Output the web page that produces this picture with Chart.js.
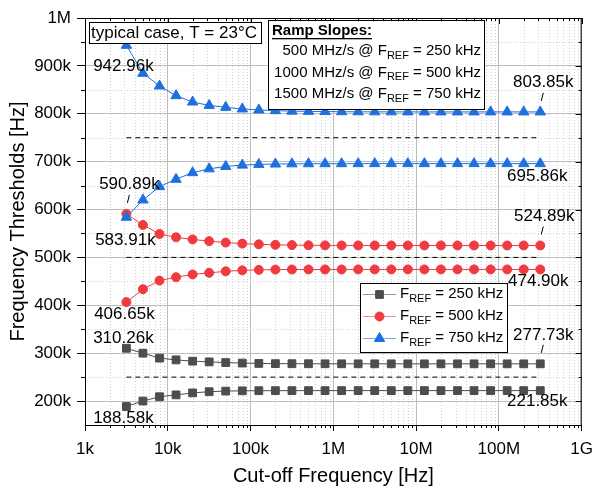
<!DOCTYPE html>
<html>
<head>
<meta charset="utf-8">
<script src="https://cdn.jsdelivr.net/npm/chart.js@4.4.0/dist/chart.umd.min.js"></script>
<style>
  html, body { margin: 0; padding: 0; background: #fff; }
  #wrap { width: 601px; height: 488px; }
</style>
</head>
<body>
<div id="wrap"><canvas id="thresholds"></canvas></div>
<script>
// cut-off frequency of the sweep [Hz]
const cutoff = [3162, 5012, 7943, 12589, 19953, 31623, 50119, 79433, 125893, 199526,
  316228, 501187, 794328, 1258925, 1995262, 3162278, 5011872, 7943282, 12589254,
  19952623, 31622777, 50118723, 79432823, 125892541, 199526231, 316227766];

// thresholds [kHz]
const upper250 = [310.26, 300.0, 289.6, 286.0, 283.3, 281.8, 280.4, 279.3, 278.6, 278.2, 278.0, 277.9, 277.85,
  277.8, 277.8, 277.78, 277.76, 277.75, 277.75, 277.74, 277.74, 277.73, 277.73, 277.73, 277.73, 277.73];
const lower250 = [188.58, 200.0, 209.0, 212.9, 217.0, 219.5, 220.8, 221.4, 221.6, 221.7, 221.75, 221.8, 221.8,
  221.82, 221.83, 221.84, 221.84, 221.85, 221.85, 221.85, 221.85, 221.85, 221.85, 221.85, 221.85, 221.85];
const upper500 = [590.89, 567.8, 549.0, 542.0, 537.5, 534.0, 531.0, 528.8, 527.3, 526.3, 525.7, 525.3, 525.1,
  525.0, 524.95, 524.92, 524.9, 524.9, 524.89, 524.89, 524.89, 524.89, 524.89, 524.89, 524.89, 524.89];
const lower500 = [406.65, 433.6, 451.6, 458.6, 464.5, 467.8, 471.0, 473.0, 474.0, 474.5, 474.7, 474.8, 474.85,
  474.87, 474.88, 474.89, 474.9, 474.9, 474.9, 474.9, 474.9, 474.9, 474.9, 474.9, 474.9, 474.9];
const upper750 = [942.96, 884.5, 858.0, 837.8, 824.5, 817.5, 813.5, 810.0, 808.0, 806.5, 805.5, 805.0, 804.6,
  804.3, 804.1, 804.0, 803.95, 803.9, 803.88, 803.86, 803.85, 803.85, 803.85, 803.85, 803.85, 803.85];
const lower750 = [583.91, 620.0, 647.8, 663.2, 677.0, 685.0, 690.0, 692.8, 694.3, 695.0, 695.4, 695.6, 695.7,
  695.75, 695.8, 695.82, 695.84, 695.85, 695.86, 695.86, 695.86, 695.86, 695.86, 695.86, 695.86, 695.86];

const refLevels = [250, 500, 750];
const refLabels = ['250 kHz', '500 kHz', '750 kHz'];
const rampSlopes = ['500 MHz/s', '1000 MHz/s', '1500 MHz/s'];

const xTickValues = [1e3, 1e4, 1e5, 1e6, 1e7, 1e8, 1e9];
const xTickLabels = ['1k', '10k', '100k', '1M', '10M', '100M', '1G'];
const yTickValues = [200, 300, 400, 500, 600, 700, 800, 900, 1000];
const yTickLabels = ['200k', '300k', '400k', '500k', '600k', '700k', '800k', '900k', '1M'];

const FONT = "'Liberation Sans', Arial, sans-serif";
Chart.defaults.font.family = FONT;

const grey = '#4d4d4d', red = '#ef3b3f', blue = '#1f70de';

function pts(arr) {
  return cutoff.map((x, i) => ({ x: x, y: arr[i] }));
}

function series(arr, color, style, radius) {
  return {
    data: pts(arr),
    borderColor: color,
    backgroundColor: color,
    borderWidth: 1,
    pointStyle: style,
    pointRadius: radius,
    pointBorderWidth: 1,
    pointBackgroundColor: color,
    pointBorderColor: color
  };
}

function refLine(level) {
  return {
    data: [{ x: cutoff[0], y: level }, { x: cutoff[cutoff.length - 1], y: level }],
    borderColor: '#000',
    borderWidth: 1,
    borderDash: [5, 4],
    pointRadius: 0
  };
}

// text with an F_REF style subscript
function drawParts(ctx, parts, x, y, size, align) {
  const subSize = Math.round(size * 0.7);
  let w = 0;
  parts.forEach(p => {
    ctx.font = (p.sub ? subSize : size) + 'px ' + FONT;
    p.w = ctx.measureText(p.t).width;
    w += p.w;
  });
  let cx = align === 'right' ? x - w : x;
  ctx.textAlign = 'left';
  ctx.textBaseline = 'middle';
  parts.forEach(p => {
    ctx.font = (p.sub ? subSize : size) + 'px ' + FONT;
    ctx.fillText(p.t, cx, p.sub ? y + size * 0.32 : y);
    cx += p.w;
  });
  return w;
}

// value labels: dataset index, point index, offset of text, optional leader
const valueLabels = [
  { ds: 0, i: 0, dx: -3, dy: 21 },
  { ds: 0, i: 25, dx: 3, dy: -30, lead: true },
  { ds: 1, i: 0, dx: -1, dy: 23 },
  { ds: 1, i: 25, dx: -3, dy: 13 },
  { ds: 2, i: 0, dx: 3, dy: -30, lead: true },
  { ds: 2, i: 25, dx: 4, dy: -29, lead: true },
  { ds: 3, i: 0, dx: -2, dy: 12 },
  { ds: 3, i: 25, dx: -2, dy: 12 },
  { ds: 4, i: 0, dx: -3, dy: -10 },
  { ds: 4, i: 25, dx: 3, dy: -29, lead: true },
  { ds: 5, i: 0, dx: -3, dy: 12 },
  { ds: 5, i: 25, dx: -3, dy: 11 }
];

const framePlugin = {
  id: 'frame',
  beforeDatasetsDraw(chart) {
    const { ctx, chartArea: a, scales: { x, y } } = chart;
    ctx.save();
    ctx.strokeStyle = '#d2d2d2';
    ctx.lineWidth = 1;
    ctx.setLineDash([1, 2]);
    for (let d = 1e3; d < 1e9; d *= 10) {
      for (let m = 2; m < 10; m++) {
        const px = Math.round(x.getPixelForValue(m * d)) + 0.5;
        ctx.beginPath(); ctx.moveTo(px, a.top); ctx.lineTo(px, a.bottom); ctx.stroke();
      }
    }
    for (let v = 250; v < 1000; v += 100) {
      const py = Math.round(y.getPixelForValue(v)) + 0.5;
      ctx.beginPath(); ctx.moveTo(a.left, py); ctx.lineTo(a.right, py); ctx.stroke();
    }
    ctx.restore();
  },
  afterDatasetsDraw(chart) {
    const { ctx, chartArea: a, scales: { x, y } } = chart;
    ctx.save();
    // frame and ticks
    ctx.strokeStyle = '#000';
    ctx.lineWidth = 1;
    ctx.strokeRect(a.left + 0.5, a.top + 0.5, a.right - a.left - 1, a.bottom - a.top);
    ctx.beginPath();
    for (let d = 1e3; d <= 1e9; d *= 10) {
      const px = Math.round(x.getPixelForValue(d)) + 0.5;
      ctx.moveTo(px, a.top); ctx.lineTo(px, a.top + 6);
      if (d < 1e9) {
        for (let m = 2; m < 10; m++) {
          const mx = Math.round(x.getPixelForValue(m * d)) + 0.5;
          ctx.moveTo(mx, a.top); ctx.lineTo(mx, a.top + 3);
          ctx.moveTo(mx, a.bottom); ctx.lineTo(mx, a.bottom + 3);
        }
      }
    }
    yTickValues.forEach(v => {
      const py = Math.round(y.getPixelForValue(v)) + 0.5;
      ctx.moveTo(a.right, py); ctx.lineTo(a.right - 6, py);
    });
    for (let v = 250; v < 1000; v += 100) {
      const py = Math.round(y.getPixelForValue(v)) + 0.5;
      ctx.moveTo(a.right, py); ctx.lineTo(a.right - 3, py);
      ctx.moveTo(a.left, py); ctx.lineTo(a.left - 4, py);
    }
    ctx.stroke();

    // value labels
    ctx.fillStyle = '#000';
    ctx.font = '17px ' + FONT;
    ctx.textAlign = 'center';
    ctx.textBaseline = 'middle';
    valueLabels.forEach(l => {
      const p = chart.getDatasetMeta(l.ds).data[l.i];
      const val = chart.data.datasets[l.ds].data[l.i].y;
      ctx.fillText(val.toFixed(2) + 'k', p.x + l.dx, p.y + l.dy);
      if (l.lead) {
        ctx.beginPath();
        ctx.moveTo(p.x + 3, p.y - 19);
        ctx.lineTo(p.x + 1, p.y - 11);
        ctx.stroke();
      }
    });

    // "typical case" box
    ctx.fillStyle = '#fff';
    ctx.fillRect(89.5, 22.5, 172, 21);
    ctx.strokeRect(89.5, 22.5, 172, 21);
    ctx.fillStyle = '#000';
    ctx.textAlign = 'left';
    ctx.fillText('typical case, T = 23\u00b0C', 91, 33.5);

    // ramp slopes box
    ctx.fillStyle = '#fff';
    ctx.fillRect(268.5, 20.5, 216, 89);
    ctx.strokeRect(268.5, 20.5, 216, 89);
    ctx.fillStyle = '#000';
    ctx.font = 'bold 15px ' + FONT;
    ctx.textBaseline = 'middle';
    ctx.fillText('Ramp Slopes:', 272, 31);
    const uw = ctx.measureText('Ramp Slopes:').width;
    ctx.fillRect(272, 38, uw, 1.3);
    rampSlopes.forEach((s, k) => {
      drawParts(ctx, [{ t: s + ' @ F' }, { t: 'REF', sub: true }, { t: ' = ' + refLabels[k] }],
        481, 51 + k * 21.5, 15, 'right');
    });

    // legend
    ctx.fillStyle = '#fff';
    ctx.fillRect(360.5, 283.5, 147, 69);
    ctx.strokeRect(360.5, 283.5, 147, 69);
    [4, 2, 0].forEach((ds, k) => {
      const d = chart.data.datasets[ds];
      const ly = 294 + k * 22;
      ctx.save();
      ctx.globalAlpha = 0.6;
      ctx.strokeStyle = d.borderColor;
      ctx.beginPath(); ctx.moveTo(363, ly + 0.5); ctx.lineTo(396, ly + 0.5); ctx.stroke();
      ctx.restore();
      ctx.fillStyle = d.pointBackgroundColor;
      ctx.strokeStyle = d.pointBorderColor;
      Chart.helpers.drawPoint(ctx, { pointStyle: d.pointStyle, radius: d.pointRadius, rotation: 0, borderWidth: 1 }, 379.5, ly + 0.5);
      ctx.fillStyle = '#000';
      drawParts(ctx, [{ t: 'F' }, { t: 'REF', sub: true }, { t: ' = ' + refLabels[k] }], 400, ly, 15, 'left');
    });
    ctx.restore();
  }
};

new Chart(document.getElementById('thresholds'), {
  type: 'line',
  data: {
    datasets: [
      series(upper750, blue, 'triangle', 6),
      series(lower750, blue, 'triangle', 6),
      series(upper500, red, 'circle', 4.5),
      series(lower500, red, 'circle', 4.5),
      series(upper250, grey, 'rect', 5.5),
      series(lower250, grey, 'rect', 5.5),
      refLine(refLevels[0]),
      refLine(refLevels[1]),
      refLine(refLevels[2])
    ]
  },
  plugins: [framePlugin],
  options: {
    responsive: true,
    maintainAspectRatio: false,
    animation: false,
    layout: { padding: { left: 0, right: 11, top: 18, bottom: 0 } },
    plugins: { legend: { display: false }, tooltip: { enabled: false } },
    scales: {
      x: {
        type: 'logarithmic',
        min: 1e3,
        max: 1e9,
        afterBuildTicks: axis => { axis.ticks = xTickValues.map(v => ({ value: v })); },
        afterFit: axis => { axis.height = 63; },
        grid: { color: '#bdbdbd', tickColor: '#000', tickLength: 6 },
        border: { color: '#000' },
        ticks: {
          color: '#000',
          font: { size: 17 },
          padding: 8,
          maxRotation: 0,
          autoSkip: false,
          callback: v => xTickLabels[xTickValues.indexOf(v)]
        },
        title: {
          display: true,
          text: 'Cut-off Frequency [Hz]',
          color: '#000',
          font: { size: 20 },
          padding: { top: 0, bottom: 0 }
        }
      },
      y: {
        type: 'linear',
        min: 150,
        max: 1000,
        afterBuildTicks: axis => { axis.ticks = yTickValues.map(v => ({ value: v })); },
        afterFit: axis => { axis.width = 85; },
        grid: { color: '#bdbdbd', tickColor: '#000', tickLength: 8 },
        border: { color: '#000' },
        ticks: {
          color: '#000',
          font: { size: 17 },
          padding: 6,
          callback: v => yTickLabels[yTickValues.indexOf(v)]
        },
        title: {
          display: true,
          text: 'Frequency Thresholds [Hz]',
          color: '#000',
          font: { size: 20 },
          padding: { top: 6, bottom: 0 }
        }
      }
    }
  }
});
</script>
</body>
</html>
